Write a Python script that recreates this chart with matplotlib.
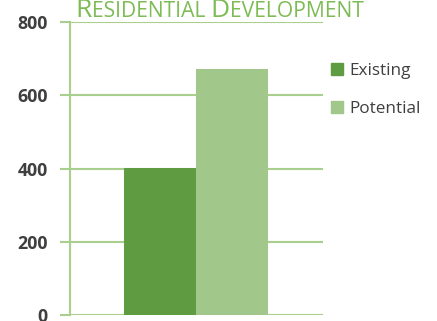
import matplotlib.pyplot as plt
from matplotlib.patches import Patch

# 数据
series = ['Existing', 'Potential']
values = [402, 673]
colors = ['#5f9b41', '#a2c78a']
yticks = [0, 200, 400, 600, 800]
title_parts = [('R', True), ('ESIDENTIAL ', False), ('D', True), ('EVELOPMENT', False)]

grid_color = '#a9cf8f'
text_color = '#3f3f3f'
title_color = '#7dbb55'

plt.rcParams['font.family'] = ['Open Sans', 'DejaVu Sans']

W, H = 437, 321
fig = plt.figure(figsize=(W / 100, H / 100), dpi=100)
ax = fig.add_axes([70 / W, 6 / H, 253 / W, 293 / H])

ax.bar([0, 1], values, width=1.0, color=colors, zorder=3)
ax.set_xlim(-1.25, 2.264)
ax.set_ylim(0, 800)
ax.set_yticks(yticks)
ax.set_yticklabels([str(t) for t in yticks], fontsize=12.8, fontweight='bold', color=text_color)
ax.set_xticks([])
ax.yaxis.grid(True, color=grid_color, linewidth=1.5, zorder=0)
ax.tick_params(axis='y', length=7, width=1.5, color=grid_color, pad=9)
for s in ['top', 'right', 'bottom']:
    ax.spines[s].set_visible(False)
ax.spines['left'].set_color(grid_color)
ax.spines['left'].set_linewidth(1.5)

# 图例
handles = [Patch(color=c, label=l) for c, l in zip(colors, series)]
leg = fig.legend(handles=handles, loc='upper left', bbox_to_anchor=(322 / W, 267 / H),
                 frameon=False, fontsize=12.3, handlelength=0.7, handleheight=0.7,
                 handletextpad=0.4, labelspacing=1.3, borderpad=0)
for t in leg.get_texts():
    t.set_color(text_color)

# 标题 (small caps)，顶部被裁掉
big, small = 19, 15.2
renderer = fig.canvas.get_renderer()
texts = []
for s, is_big in title_parts:
    t = fig.text(0, 1 - 17 / H, s, fontsize=big if is_big else small,
                 color=title_color, ha='left', va='baseline')
    texts.append(t)
widths = [t.get_window_extent(renderer).width for t in texts]
x = 219.5 - sum(widths) / 2
for t, w in zip(texts, widths):
    t.set_x(x / W)
    x += w

fig.savefig('out.png', dpi=100)
